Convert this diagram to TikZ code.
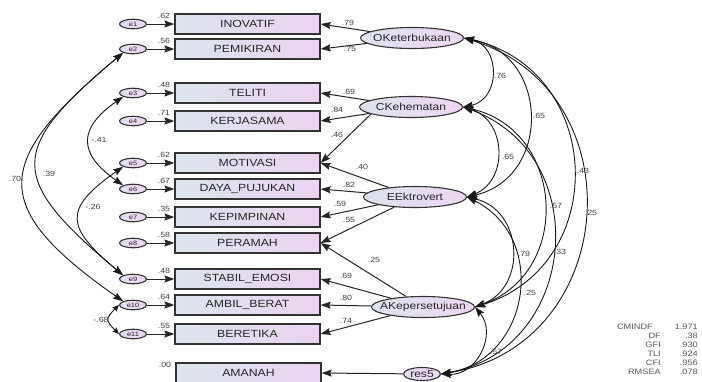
\documentclass[tikz,border=0pt]{standalone}
\usepackage{fontspec}
\setmainfont{Liberation Sans}[FakeStretch=1.18]
\usetikzlibrary{arrows.meta,shapes.geometric}
\definecolor{boxL}{HTML}{DCE5EB}
\definecolor{boxR}{HTML}{EAD4F1}
\definecolor{ellL}{HTML}{DEE3EE}
\definecolor{ellR}{HTML}{ECD6F2}
\definecolor{errL}{HTML}{E4DDF0}
\definecolor{errR}{HTML}{EED5F4}
\definecolor{edge}{HTML}{333333}
\begin{document}
\begin{tikzpicture}[x=1pt,y=1pt,
  obs/.style={draw=edge, line width=1.3pt, left color=boxL, right color=boxR, minimum width=145pt, minimum height=20pt, inner sep=0pt, font=\fontsize{10.4}{11}\selectfont, text=black!85},
  lat/.style={ellipse, draw=edge, line width=1.1pt, left color=ellL, right color=ellR, minimum width=103pt, minimum height=21pt, inner sep=0pt},
  lattxt/.style={font=\fontsize{10.2}{11}\selectfont, text=black!85, inner sep=0pt},
  err/.style={ellipse, draw=edge, line width=1.1pt, left color=errL, right color=errR, minimum width=27pt, minimum height=9.5pt, inner sep=0pt},
  errtxt/.style={font=\fontsize{6.3}{7}\selectfont, text=black!85, inner sep=0pt},
  regarrow/.style={-{Stealth[length=10pt,width=7pt,inset=1.5pt]}, line width=1pt, draw=black!85},
  cov/.style={{Stealth[length=10pt,width=7pt,inset=1.5pt]}-{Stealth[length=10pt,width=7pt,inset=1.5pt]}, line width=0.9pt, draw=black!90},
  smallcov/.style={{Stealth[length=6.5pt,width=5.5pt,inset=1pt]}-{Stealth[length=6.5pt,width=5.5pt,inset=1pt]}, line width=0.9pt, draw=black!90},
  val/.style={font=\fontsize{7.5}{8}\selectfont, text=black!75, inner sep=0pt},
  stat/.style={font=\fontsize{7.8}{8}\selectfont, text=black!65, inner sep=0pt}
]
\fill[white] (0,0) rectangle (702,-381);
\useasboundingbox (0,0) rectangle (702,-381);

% observed variables
\node[obs] (INOV) at (247.5,-24) {INOVATIF};
\node[obs] (PEMI) at (247.5,-49) {PEMIKIRAN};
\node[obs] (TELI) at (247.5,-93) {TELITI};
\node[obs] (KERJ) at (247.5,-121) {KERJASAMA};
\node[obs] (MOTI) at (247.5,-163) {MOTIVASI};
\node[obs] (DAYA) at (247.5,-189) {DAYA\_PUJUKAN};
\node[obs] (KEPI) at (247.5,-217) {KEPIMPINAN};
\node[obs] (PERA) at (247.5,-243) {PERAMAH};
\node[obs] (STAB) at (247.5,-279) {STABIL\_EMOSI};
\node[obs] (AMBI) at (247.5,-305) {AMBIL\_BERAT};
\node[obs] (BERE) at (247.5,-334) {BERETIKA};
\node[obs] (AMAN) at (248.5,-373) {AMANAH};

% squared multiple correlations
\foreach \b/\v [count=\i] in {INOV/.62,PEMI/.56,TELI/.48,KERJ/.71,MOTI/.62,DAYA/.67,KEPI/.35,PERA/.58,STAB/.48,AMBI/.64,BERE/.55,AMAN/.00}
  \node[val, anchor=south east, xshift=-4pt, yshift=-5pt] (v\i) at (\b.north west) {\v};

% error terms
\foreach \b [count=\i] in {INOV,PEMI,TELI,KERJ,MOTI,DAYA,KEPI,PERA,STAB,AMBI,BERE}{
  \node[err] (e\i) at (133,0 |- \b) {};
  \node[errtxt] (et\i) at (e\i) {e\i};
  \draw[regarrow] (e\i) -- (\b);
}

% latent variables
\node[lat] (OK) at (412,-38) {};
\node[lattxt] (OKt) at (OK) {OKeterbukaan};
\node[lat] (CK) at (411,-107) {};
\node[lattxt] (CKt) at (CK) {CKehematan};
\node[lat] (EE) at (415,-197) {};
\node[lattxt] (EEt) at (EE) {EEktrovert};
\node[lat] (AK) at (423,-307) {};
\node[lattxt] (AKt) at (AK) {AKepersetujuan};
\node[ellipse, draw=edge, line width=1.1pt, left color=errL, right color=errR, minimum width=37pt, minimum height=13pt, inner sep=0pt] (res5) at (422,-374) {};
\node[lattxt] (res5t) at (res5) {res5};

% loadings
\draw[regarrow] (OK) -- (INOV.east);
\draw[regarrow] (OK) -- (PEMI.east);
\draw[regarrow] (CK) -- (TELI.east);
\draw[regarrow] (CK) -- (KERJ.east);
\draw[regarrow] (CK.190) -- (MOTI.east);
\draw[regarrow] (EE) -- (MOTI.east);
\draw[regarrow] (EE) -- (DAYA.east);
\draw[regarrow] (EE) -- (KEPI.east);
\draw[regarrow] (EE) -- (PERA.east);
\draw[regarrow] (AK) -- (PERA.east);
\draw[regarrow] (AK) -- (STAB.east);
\draw[regarrow] (AK) -- (AMBI.east);
\draw[regarrow] (AK) -- (BERE.east);
\draw[regarrow] (res5) -- (AMAN.east);

\node[val] (l1) at (348,-23) {.79};
\node[val] (l2) at (350,-49) {.75};
\node[val] (l3) at (349,-92) {.69};
\node[val] (l4) at (337,-110) {.84};
\node[val] (l5) at (337,-135) {.46};
\node[val] (l6) at (362,-167) {.40};
\node[val] (l7) at (349,-185) {.82};
\node[val] (l8) at (340,-204) {.59};
\node[val] (l9) at (349,-220) {.55};
\node[val] (l10) at (374,-260) {.25};
\node[val] (l11) at (346,-276) {.69};
\node[val] (l12) at (346,-298) {.80};
\node[val] (l13) at (346,-321) {.74};

% covariances among latent variables
\draw[cov] (OK.east) to[bend left=78, looseness=1.41] (CK.east);
\draw[cov] (OK.east) to[bend left=78, looseness=1.40] (EE.east);
\draw[cov] (CK.east) to[bend left=71, looseness=1.28] (EE.east);
\draw[cov] (OK.east) to[bend left=75, looseness=1.36] (AK.east);
\draw[cov] (OK.east) to[bend left=77, looseness=1.38] (res5.east);
\draw[cov] (CK.east) to[bend left=74, looseness=1.33] (AK.east);
\draw[cov] (CK.east) to[bend left=75, looseness=1.34] (res5.east);
\draw[cov] (EE.east) to[bend left=73, looseness=1.32] (AK.east);
\draw[cov] (EE.east) to[bend left=72, looseness=1.30] (res5.east);
\draw[cov] (AK.east) to[bend left=66, looseness=1.21] (res5.east);

\node[val] (c1) at (500,-76) {.76};
\node[val] (c2) at (539,-116) {.65};
\node[val] (c3) at (508,-157) {.65};
\node[val] (c4) at (583,-171) {.43};
\node[val] (c5) at (556,-206) {.57};
\node[val] (c6) at (591,-213) {.25};
\node[val] (c7) at (524,-254) {.79};
\node[val] (c8) at (560,-252) {.33};
\node[val] (c9) at (530,-293) {.25};
\node[val] (c10) at (496,-352) {.57};

% covariances among errors
\draw[cov] (e2.south west) to[out=220, in=145, looseness=1.73] (e10.north west);
\draw[cov] (e2.south west) to[out=220, in=140, looseness=1.74] (e9.north west);
\draw[cov] (e3.south west) to[out=215, in=145, looseness=1.60] (e6.north west);
\draw[cov] (e5.south west) to[out=215, in=140, looseness=1.76] (e9.north west);
\draw[smallcov] (e10.west) to[out=225, in=135, looseness=1.7] (e11.west);

\node[val] (d1) at (15,-179) {.70};
\node[val] (d2) at (49,-174) {.39};
\node[val] (d3) at (99,-140) {-.41};
\node[val] (d4) at (93,-207) {-.26};
\node[val] (d5) at (101,-320) {-.68};

% fit statistics
\node[stat, anchor=east] (s1) at (653,-327) {CMINDF};
\node[stat, anchor=east] (s2) at (661,-336) {DF};
\node[stat, anchor=east] (s3) at (661,-345) {GFI};
\node[stat, anchor=east] (s4) at (661,-354) {TLI};
\node[stat, anchor=east] (s5) at (661,-363) {CFI};
\node[stat, anchor=east] (s6) at (661,-372) {RMSEA};
\node[stat, anchor=east] (s7) at (698,-327) {1.971};
\node[stat, anchor=east] (s8) at (698,-336) {.38};
\node[stat, anchor=east] (s9) at (698,-345) {.930};
\node[stat, anchor=east] (s10) at (698,-354) {.924};
\node[stat, anchor=east] (s11) at (698,-363) {.956};
\node[stat, anchor=east] (s12) at (698,-372) {.078};
\end{tikzpicture}
\end{document}
